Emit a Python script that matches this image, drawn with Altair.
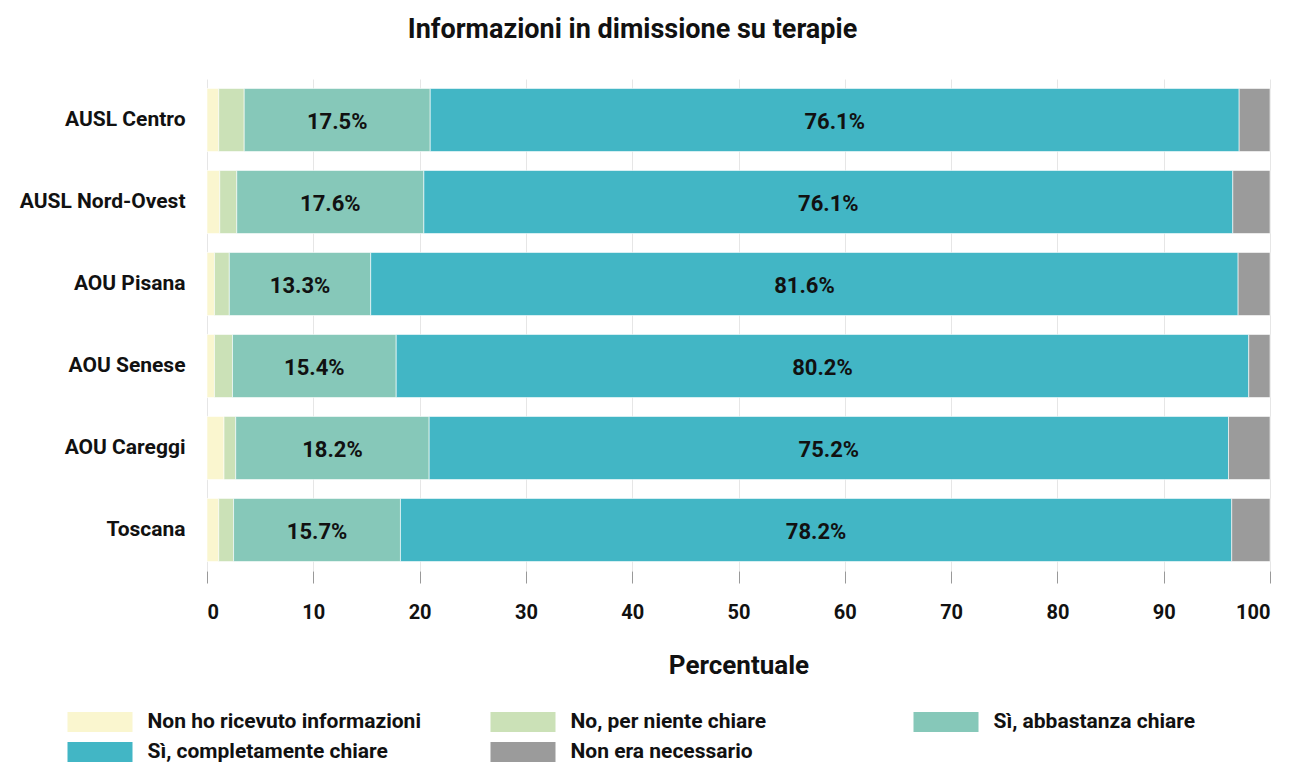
import altair as alt
import pandas as pd

categories = ["AUSL Centro", "AUSL Nord-Ovest", "AOU Pisana", "AOU Senese", "AOU Careggi", "Toscana"]
responses = ["Non ho ricevuto informazioni", "No, per niente chiare", "Sì, abbastanza chiare",
             "Sì, completamente chiare", "Non era necessario"]
colors = ["#faf6cf", "#cbe1b7", "#86c8b9", "#42b6c5", "#9b9b9b"]

non_ho = [1.1, 1.2, 0.7, 0.7, 1.6, 1.1]
no_niente = [2.4, 1.6, 1.4, 1.7, 1.1, 1.4]
si_abbastanza = [17.5, 17.6, 13.3, 15.4, 18.2, 15.7]
si_completamente = [76.1, 76.1, 81.6, 80.2, 75.2, 78.2]
non_necessario = [2.9, 3.5, 3.0, 2.0, 3.9, 3.6]

series = [non_ho, no_niente, si_abbastanza, si_completamente, non_necessario]
rows = []
for ri, (resp, vals) in enumerate(zip(responses, series)):
    for c, v in zip(categories, vals):
        rows.append({"cat": c, "resp": resp, "ord": ri, "value": v})
df = pd.DataFrame(rows)

FONT = "Roboto"

base = alt.Chart(df).transform_stack(
    stack="value", groupby=["cat"], as_=["v0", "v1"], sort=[alt.SortField("ord", order="ascending")]
).transform_calculate(mid="(datum.v0 + datum.v1) / 2",
                      lab="format(datum.value, '.1f') + '%'")

bars = base.mark_bar(stroke="white", strokeWidth=0.6).encode(
    y=alt.Y("cat:N", sort=categories, title=None,
            scale=alt.Scale(paddingInner=0.23, paddingOuter=0.115),
            axis=alt.Axis(domain=False, ticks=False, labelFontSize=21, labelFont=FONT,
                          labelFontWeight="bold", labelColor="#111111", labelPadding=22,
                          minExtent=199, maxExtent=199, labelLimit=220)),
    x=alt.X("v0:Q", title="Percentuale",
            scale=alt.Scale(domain=[0, 100], nice=False),
            axis=alt.Axis(values=list(range(0, 101, 10)), domain=False, grid=True,
                          gridColor="#e6e6e6", tickColor="#999999", tickSize=12, tickOffset=0,
                          labelFontSize=20, labelFont=FONT, labelFontWeight="bold",
                          labelColor="#111111", labelPadding=19,
                          titleFontSize=26, titleFont=FONT, titleFontWeight="bold",
                          titleColor="#111111", titlePadding=30)),
    x2="v1:Q",
    color=alt.Color("resp:N", sort=responses,
                    scale=alt.Scale(domain=responses, range=colors),
                    legend=alt.Legend(orient="none", legendX=-127, legendY=623, columns=3,
                                      title=None, direction="horizontal",
                                      symbolType="M-1.625,-0.5H1.625V0.5H-1.625Z", symbolSize=1600,
                                      symbolStrokeWidth=0, symbolOpacity=1,
                                      labelFontSize=21, labelFont=FONT, labelFontWeight="bold",
                                      labelColor="#111111", labelOffset=27.5, labelLimit=400,
                                      gridAlign="all", columnPadding=69, rowPadding=-4)),
    order=alt.Order("ord:Q"),
)

texts = base.transform_filter(
    (alt.datum.ord == 2) | (alt.datum.ord == 3)
).mark_text(fontSize=22, font=FONT, fontWeight="bold", color="#111111", dy=2).encode(
    y=alt.Y("cat:N", sort=categories),
    x=alt.X("mid:Q"),
    text="lab:N",
)

chart = alt.layer(bars, texts).properties(
    width=1063, height=492,
    padding={"left": 0, "top": 8, "right": 10, "bottom": 0},
    title=alt.TitleParams("Informazioni in dimissione su terapie", fontSize=27, font=FONT,
                          fontWeight="bold", color="#111111", offset=35, anchor="middle",
                          dx=-106),
).configure_view(stroke=None)

chart.save("out.html", embed_options={"renderer": "svg", "actions": False})
